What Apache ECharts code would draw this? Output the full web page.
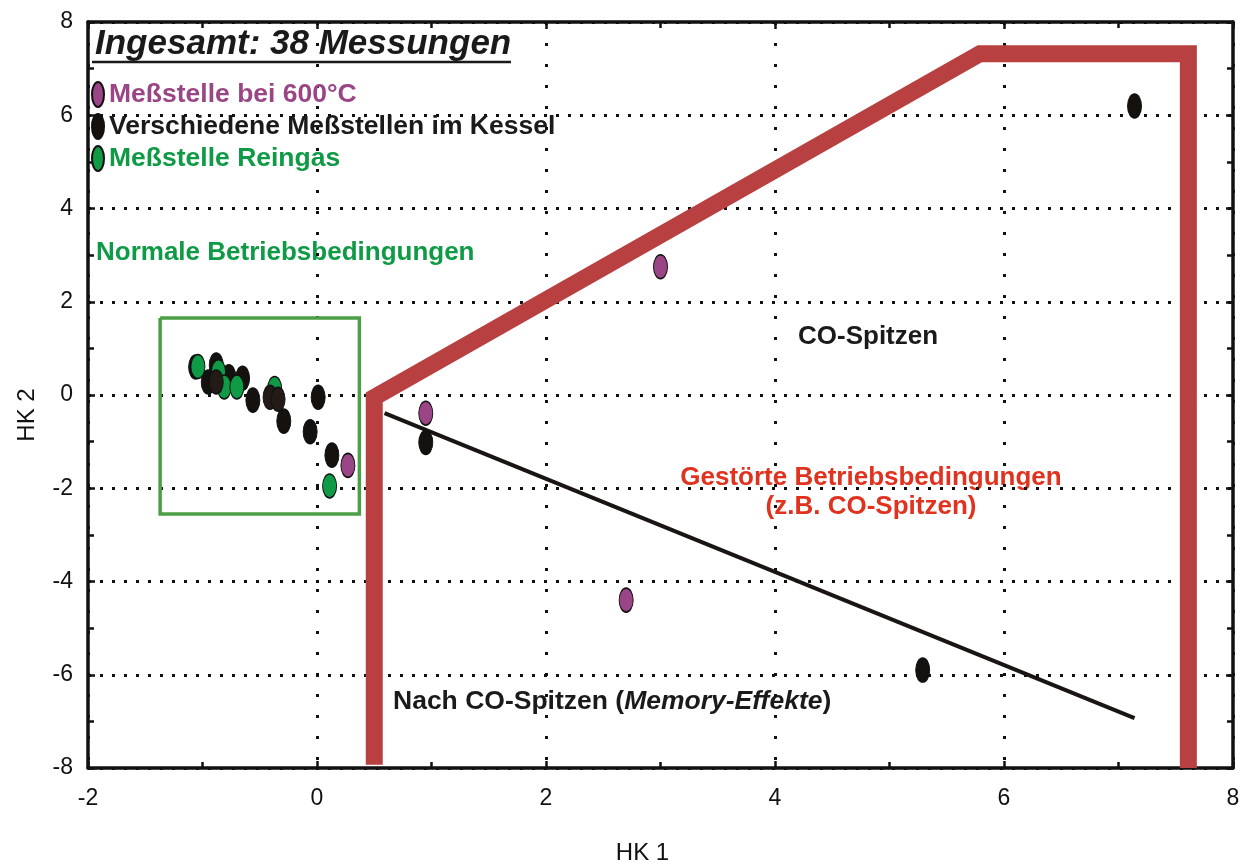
<!DOCTYPE html>
<html>
<head>
<meta charset="utf-8">
<script src="https://cdn.jsdelivr.net/npm/echarts@6/dist/echarts.min.js"></script>
<style>
  html, body { margin: 0; padding: 0; background: #fff; }
  #chart { width: 1249px; height: 866px; }
</style>
</head>
<body>
<div id="chart"></div>
<script>
// Messpunkte (HK 1, HK 2)
const purplePts = [[0.27, -1.51], [0.95, -0.39], [3.0, 2.75], [2.7, -4.4]];
const blackPts = [[-1.06, 0.60], [-0.88, 0.64], [-0.95, 0.28], [-0.77, 0.39], [-0.65, 0.36],
  [-0.56, -0.11], [-0.29, -0.56], [0.01, -0.05], [-0.06, -0.79], [0.13, -1.29],
  [0.95, -1.02], [5.29, -5.9], [7.14, 6.2]];
const blackTopPts = [[-0.88, 0.28], [-0.41, -0.05], [-0.34, -0.09]];
const greenPts = [[-1.04, 0.61], [-0.86, 0.5], [-0.81, 0.17], [-0.70, 0.17], [-0.37, 0.14], [0.11, -1.95]];

// Bereiche / Linien
const boundary = [[0.5, -7.93], [0.5, -0.05], [5.79, 7.32], [7.61, 7.32], [7.61, -8]];
const memoryLine = [[0.59, -0.39], [7.14, -6.93]];
const normalBox = [[-1.37, 1.65], [0.37, 1.65], [0.37, -2.55], [-1.37, -2.55], [-1.37, 1.65]];

const xTicks = [-2, 8, 2];
const yTicks = [-8, 8, 2];

const names = ["Meßstelle bei 600°C", "Verschiedene Meßstellen im Kessel", "Meßstelle Reingas"];
const ellipse = "path://M50,0 A50,50 0 1,1 50,100 A50,50 0 1,1 50,0 Z";
const font = "Liberation Sans";

let myChart = echarts.init(document.getElementById("chart"));

function axisBase(min, max, interval, pos) {
  return {
    type: "value",
    position: pos,
    min: min, max: max, interval: interval,
    axisLine: { show: true, onZero: false, lineStyle: { color: "#111", width: 3.5 } },
    axisTick: { show: true, inside: true, length: 7, lineStyle: { color: "#111", width: 2.5 } },
    minorTick: { show: true, splitNumber: 2, length: 6, lineStyle: { color: "#111", width: 2.5 } },
    axisLabel: { show: false },
    splitLine: { show: false },
  };
}

let xMain = axisBase(xTicks[0], xTicks[1], xTicks[2], "bottom");
xMain.axisLabel = { show: true, fontSize: 23, color: "#111", fontFamily: font, margin: 19 };
xMain.splitLine = { show: true, lineStyle: { color: "#111", width: 3, type: [3, 18] } };
xMain.name = "HK 1";
xMain.nameLocation = "middle";
xMain.nameGap = 73;
xMain.nameTextStyle = { fontSize: 24, color: "#111", fontFamily: font, padding: [0, 36, 0, 0] };

let yMain = axisBase(yTicks[0], yTicks[1], yTicks[2], "left");
yMain.axisLabel = { show: true, fontSize: 23, color: "#111", fontFamily: font, margin: 15 };
yMain.splitLine = { show: true, lineStyle: { color: "#111", width: 3, type: [3, 9] } };
yMain.name = "HK 2";
yMain.nameLocation = "middle";
yMain.nameGap = 49;
yMain.nameTextStyle = { fontSize: 24, color: "#111", fontFamily: font, padding: [0, 40, 0, 0] };

function scatter(name, data, color, z) {
  return {
    name: name,
    type: "scatter",
    data: data,
    symbol: ellipse,
    symbolSize: [14, 24],
    z: z,
    itemStyle: { color: color, borderColor: "#111", borderWidth: 1.2, opacity: 1 },
  };
}

myChart.setOption({
  animation: false,
  backgroundColor: "#fff",
  textStyle: { fontFamily: font },
  grid: { left: 88, right: 16, top: 22, bottom: 98, outerBoundsMode: "none" },
  title: {
    text: "Ingesamt: 38 Messungen",
    left: 90, top: 22,
    textStyle: { fontSize: 35, fontWeight: "bold", fontStyle: "italic", color: "#1a1a1a", fontFamily: font },
  },
  legend: {
    orient: "vertical",
    left: 91, top: 81,
    padding: 0,
    itemWidth: 12, itemHeight: 25, itemGap: 5,
    icon: ellipse,
    symbolKeepAspect: false,
    selectedMode: false,
    data: [
      { name: names[0], textStyle: { color: "#9a4585" } },
      { name: names[1], textStyle: { color: "#1a1a1a" } },
      { name: names[2], textStyle: { color: "#0f9a45" } },
    ],
    textStyle: { fontSize: 26.5, fontWeight: "bold", fontFamily: font },
  },
  xAxis: [xMain, axisBase(xTicks[0], xTicks[1], xTicks[2], "top")],
  yAxis: [yMain, axisBase(yTicks[0], yTicks[1], yTicks[2], "right")],
  series: [
    {
      type: "line", data: boundary, symbol: "none", z: 3,
      lineStyle: { color: "#b94040", width: 17, join: "miter", cap: "butt" },
    },
    {
      type: "line", data: memoryLine, symbol: "none", z: 3,
      lineStyle: { color: "#1a1512", width: 4 },
    },
    {
      type: "line", data: normalBox, symbol: "none", z: 3,
      lineStyle: { color: "#4c9f47", width: 3.5, join: "miter" },
    },
    scatter(names[1], blackPts, "#15110f", 4),
    scatter(names[0], purplePts, "#9a4585", 5),
    scatter(names[2], greenPts, "#0f9a45", 5),
    scatter(names[1], blackTopPts, "#231b17", 6),
  ],
  graphic: [
    { type: "line", shape: { x1: 92, y1: 62, x2: 511, y2: 62 }, style: { stroke: "#1a1a1a", lineWidth: 2.5 } },
    { type: "text", left: 96, top: 240,
      style: { text: "Normale Betriebsbedingungen", fill: "#0f9a45", font: "bold 26px Liberation Sans" } },
    { type: "text", left: 798, top: 324,
      style: { text: "CO-Spitzen", fill: "#1a1a1a", font: "bold 26px Liberation Sans" } },
    { type: "text", left: 676, top: 463,
      style: { text: "Gestörte Betriebsbedingungen\n(z.B. CO-Spitzen)", fill: "#e0321f", align: "center",
        font: "bold 26px Liberation Sans", lineHeight: 29, width: 390, textAlign: "center" } },
    { type: "text", left: 393, top: 688,
      style: {
        text: "{n|Nach CO-Spitzen (}{i|Memory-Effekte}{n|)}",
        rich: {
          n: { fontSize: 26.5, fontWeight: "bold", fill: "#1a1a1a", fontFamily: font },
          i: { fontSize: 26.5, fontWeight: "bold", fontStyle: "italic", fill: "#1a1a1a", fontFamily: font },
        },
      } },
  ],
});
window.onresize = function () {
  myChart.resize();
};
</script>
</body>
</html>
